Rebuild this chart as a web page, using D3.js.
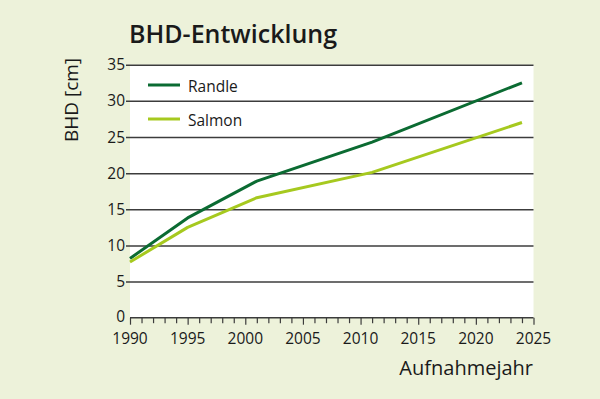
<!DOCTYPE html>
<html>
<head>
<meta charset="utf-8">
<script src="https://cdn.jsdelivr.net/npm/d3@7"></script>
<style>
  html, body { margin: 0; padding: 0; background: #edf2da; }
  svg text { font-family: 'Open Sans', 'Noto Sans', sans-serif; fill: #1a1a1a; font-weight: 500; }
</style>
</head>
<body>
<div class="chart"></div>
<script>
const years = [1990, 1995, 2001, 2011, 2024];
const randle = [8.2, 13.8, 18.9, 24.3, 32.5];
const salmon = [7.7, 12.5, 16.6, 20.1, 27.0];
const seriesNames = ['Randle', 'Salmon'];
const seriesColors = ['#0b6b32', '#a6c91f'];
const yTicks = [0, 5, 10, 15, 20, 25, 30, 35];
const xTicks = [1990, 1995, 2000, 2005, 2010, 2015, 2020, 2025];

const width = 600;
const height = 399;
const margin = { top: 64.7, right: 66.5, bottom: 81.3, left: 130 };

const svg = d3.select('.chart')
  .append('svg')
  .attr('width', width)
  .attr('height', height);

svg.append('rect')
  .attr('width', width)
  .attr('height', height)
  .attr('fill', '#edf2da');

const xscale = d3.scaleLinear()
  .domain([1990, 2025])
  .range([margin.left, width - margin.right]);
const yscale = d3.scaleLinear()
  .domain([0, 35])
  .range([height - margin.bottom, margin.top]);

// plot background
svg.append('rect')
  .attr('x', xscale(1990))
  .attr('y', yscale(35))
  .attr('width', xscale(2025) - xscale(1990))
  .attr('height', yscale(0) - yscale(35))
  .attr('fill', '#ffffff');

// horizontal grid lines with outward ticks
const grid = svg.append('g')
  .attr('transform', 'translate(' + xscale(2025) + ',0)')
  .call(d3.axisLeft(yscale)
    .tickValues(yTicks.filter(d => d > 0))
    .tickSize(xscale(2025) - xscale(1990) + 4)
    .tickFormat(''));
grid.select('.domain').remove();
grid.selectAll('line').attr('stroke', '#3c3c3c').attr('stroke-width', 1.5);

// y labels
svg.append('g')
  .selectAll('text')
  .data(yTicks)
  .join('text')
  .attr('x', 125)
  .attr('y', d => yscale(d) - (d === 0 ? 1 : 0))
  .attr('dy', '0.36em')
  .attr('text-anchor', 'end')
  .attr('font-size', 15.5)
  .text(d => d);

// x axis: yearly ticks
const xaxis = svg.append('g')
  .attr('transform', 'translate(0,' + yscale(0) + ')')
  .call(d3.axisBottom(xscale)
    .tickValues(d3.range(1990, 2026))
    .tickSize(6)
    .tickFormat(''));
xaxis.select('.domain').attr('stroke', '#3c3c3c').attr('stroke-width', 1.5)
  .attr('d', 'M' + xscale(1990) + ',0H' + xscale(2025));
xaxis.selectAll('line')
  .attr('stroke', '#3c3c3c')
  .attr('stroke-width', 1.2)
  .attr('y2', d => (d % 5 === 0 ? 7 : 5.5));

svg.append('g')
  .selectAll('text')
  .data(xTicks)
  .join('text')
  .attr('x', d => xscale(d))
  .attr('y', yscale(0) + 26)
  .attr('text-anchor', 'middle')
  .attr('font-size', 15.5)
  .text(d => d);

// lines
const line = d3.line()
  .x((d, i) => xscale(years[i]))
  .y(d => yscale(d));

[randle, salmon].forEach((s, i) => {
  svg.append('path')
    .datum(s)
    .attr('fill', 'none')
    .attr('stroke', seriesColors[i])
    .attr('stroke-width', 3)
    .attr('stroke-linejoin', 'round')
    .attr('d', line);
});

// legend
const legend = svg.append('g');
seriesNames.forEach((name, i) => {
  const y = 85 + i * 34;
  legend.append('line')
    .attr('x1', 148).attr('x2', 180)
    .attr('y1', y).attr('y2', y)
    .attr('stroke', seriesColors[i])
    .attr('stroke-width', 3);
  legend.append('text')
    .attr('x', 188)
    .attr('y', y + 7)
    .attr('font-size', 15.5)
    .text(name);
});

// titles
svg.append('text')
  .attr('x', 129)
  .attr('y', 43)
  .attr('font-size', 25)
  .style('font-weight', 600)
  .text('BHD-Entwicklung');

svg.append('text')
  .attr('transform', 'translate(78,100) rotate(-90)')
  .attr('text-anchor', 'middle')
  .attr('font-size', 19)
  .text('BHD [cm]');

svg.append('text')
  .attr('x', 533)
  .attr('y', 375)
  .attr('text-anchor', 'end')
  .attr('font-size', 20)
  .text('Aufnahmejahr');
</script>
</body>
</html>
